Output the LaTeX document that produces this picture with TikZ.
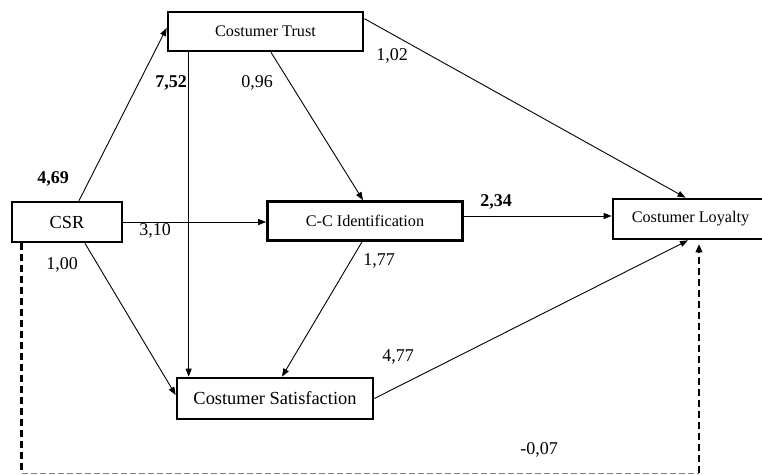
\documentclass[tikz,border=0pt]{standalone}
\usepackage{fontspec}
\setmainfont{Liberation Serif}
\usetikzlibrary{arrows.meta,calc}
\begin{document}
\begin{tikzpicture}[x=1pt,y=-1pt,
  box/.style={draw,line width=2.7pt,rectangle,inner sep=0pt,fill=white},
  smalltxt/.style={font=\fontsize{16.2}{18}\selectfont},
  bigtxt/.style={font=\fontsize{18.4}{20}\selectfont},
  arr/.style={line width=0.9pt,-{Triangle[length=8pt,width=6pt]}},
  num/.style={font=\fontsize{18}{20}\selectfont,inner sep=0pt},
  numb/.style={font=\fontsize{18}{20}\selectfont\bfseries,inner sep=0pt},
  thickdash/.style={line width=2.6pt,dash pattern=on 7pt off 4pt},
  greydash/.style={line width=1pt,gray,dash pattern=on 6pt off 3pt}]
\useasboundingbox (0,0) rectangle (762,474);
\fill[white] (0,0) rectangle (762,474);
\begin{scope}
\clip (0,0) rectangle (762,474);
% nodes
\node[box,smalltxt,minimum width=195pt,minimum height=39pt] (trust) at (265.5,31.5) {Costumer Trust};
\node[box,bigtxt,minimum width=110pt,minimum height=40pt] (csr) at (67,222) {CSR};
\node[box,smalltxt,minimum width=195pt,minimum height=39pt] (cc) at (365,221) {C-C Identification};
\node[box,smalltxt,minimum width=155pt,minimum height=40pt] (loyalty) at (690.5,219) {Costumer Loyalty};
\node[box,bigtxt,minimum width=196pt,minimum height=41pt] (sat) at (275,398.5) {Costumer Satisfaction};
% helper coordinates
\coordinate (tv) at ([xshift=22pt]trust.south west);
\coordinate (bot) at (0,473);
\coordinate (d1) at ([xshift=11pt]csr.south west);
\coordinate (d4) at ([xshift=8.5pt,yshift=-4pt]loyalty.south);
\coordinate (cl) at ([yshift=5pt]cc.east);
% connectors
\draw[arr] ([xshift=12pt]csr.north) -- ([yshift=3.5pt]trust.west);
\draw[arr] ([yshift=-8pt]trust.north east) -- ([xshift=-5pt]loyalty.north);
\draw[arr] ([xshift=5.5pt]trust.south) -- ([xshift=-2pt]cc.north);
\draw[arr] (tv) -- (tv |- sat.north);
\draw[arr] (csr.east) -- (csr.east -| cc.west);
\draw[arr] (cl) -- (cl -| loyalty.west);
\draw[arr] ([xshift=18pt]csr.south) -- ([yshift=3.5pt]sat.west);
\draw[arr] ([xshift=-3pt]cc.south) -- ([xshift=7pt]sat.north);
\draw[arr] (sat.east) -- ([xshift=-2.5pt]loyalty.south);
% dashed path
\draw[thickdash] (d1) -- (d1 |- bot);
\draw[greydash] (d1 |- bot) -- (d4 |- bot);
\draw[thickdash] (d4 |- bot) -- ([yshift=-6pt]d4);
\draw[line width=0.9pt,-{Triangle[length=8pt,width=7pt]}] ([yshift=-9pt]d4) -- (d4);
% labels
\node[numb] (l469) at (53,179) {4,69};
\node[numb] (l752) at (171,83) {7,52};
\node[num] (l096) at (257,83) {0,96};
\node[num] (l102) at (392,56) {1,02};
\node[num] (l310) at (155,231) {3,10};
\node[numb] (l234) at (496,202) {2,34};
\node[num] (l100) at (62,265) {1,00};
\node[num] (l177) at (379,261) {1,77};
\node[num] (l477) at (398,357) {4,77};
\node[num] (l007) at (539,450) {-0,07};
\end{scope}
\end{tikzpicture}
\end{document}
